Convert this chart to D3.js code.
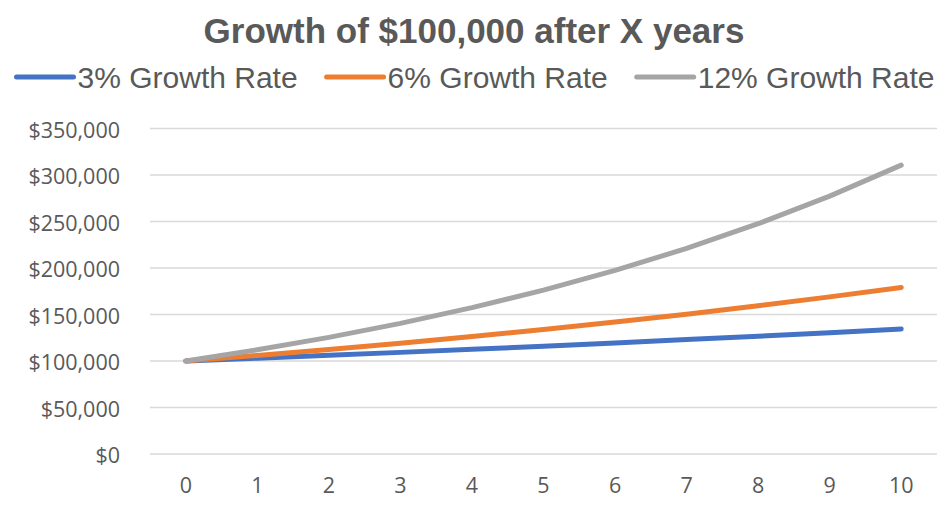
<!DOCTYPE html>
<html>
<head>
<meta charset="utf-8">
<script src="https://cdn.jsdelivr.net/npm/d3@7"></script>
<style>
  body { margin: 0; background: #fff; }
  svg { display: block; font-family: "Liberation Sans", Arial, sans-serif; }
  .axis text { font-family: "Open Sans", sans-serif; font-size: 21.5px; fill: #595959; }
</style>
</head>
<body>
<svg width="948" height="508"></svg>
<script>
// chart data
let years = [0, 1, 2, 3, 4, 5, 6, 7, 8, 9, 10];
let rate3 = [100000, 103000, 106090, 109273, 112551, 115927, 119405, 122987, 126677, 130477, 134392];
let rate6 = [100000, 106000, 112360, 119102, 126248, 133823, 141852, 150363, 159385, 168948, 179085];
let rate12 = [100000, 112000, 125440, 140493, 157352, 176234, 197382, 221068, 247596, 277308, 310585];
let seriesNames = ["3% Growth Rate", "6% Growth Rate", "12% Growth Rate"];
let yTicks = [0, 50000, 100000, 150000, 200000, 250000, 300000, 350000];

let colors = ["#4472c4", "#ed7d31", "#a5a5a5"];
let series = [rate3, rate6, rate12];

let svg = d3.select("svg");
let textColor = "#595959";

// plot area
let plotLeft = 150, plotRight = 937, plotTop = 128.5, plotBottom = 454;

let xScale = d3.scaleBand()
  .domain(years)
  .range([plotLeft, plotRight]);

let yScale = d3.scaleLinear()
  .domain([0, 350000])
  .range([plotBottom, plotTop]);

// gridlines
svg.append("g")
  .selectAll("line")
  .data(yTicks)
  .enter()
  .append("line")
    .attr("x1", plotLeft)
    .attr("x2", plotRight)
    .attr("y1", d => yScale(d))
    .attr("y2", d => yScale(d))
    .style("stroke", "#d9d9d9")
    .style("stroke-width", 1.5);

// y axis labels
let fmt = d3.format("$,");
let yAxis = svg.append("g")
  .attr("class", "axis")
  .attr("transform", `translate(${plotLeft - 30},0)`)
  .call(d3.axisLeft(yScale).tickValues(yTicks).tickFormat(fmt).tickSize(0).tickPadding(0));
yAxis.select(".domain").remove();
yAxis.selectAll("text").attr("dy", "0.4em");
yAxis.attr("font-family", null).attr("font-size", null);

// x axis labels
let xAxis = svg.append("g")
  .attr("class", "axis")
  .attr("transform", `translate(0,${plotBottom + 24})`)
  .call(d3.axisBottom(xScale).tickSize(0).tickPadding(0));
xAxis.select(".domain").remove();
xAxis.attr("font-family", null).attr("font-size", null);

// lines
let line = d3.line()
  .x((d, i) => xScale(years[i]) + xScale.bandwidth() / 2)
  .y(d => yScale(d));

svg.append("g")
  .selectAll("path")
  .data(series)
  .enter()
  .append("path")
    .attr("d", line)
    .style("fill", "none")
    .style("stroke", (d, i) => colors[i])
    .style("stroke-width", 5)
    .style("stroke-linecap", "round")
    .style("stroke-linejoin", "round");

// title
svg.append("text")
  .attr("x", 474)
  .attr("y", 43)
  .attr("text-anchor", "middle")
  .style("font-size", "35px")
  .style("font-weight", "bold")
  .style("fill", textColor)
  .text("Growth of $100,000 after X years");

// legend
let legend = svg.append("g");
let items = legend.selectAll("g")
  .data(seriesNames)
  .enter()
  .append("g");

items.append("line")
  .attr("x1", 0).attr("x2", 57)
  .attr("y1", 0).attr("y2", 0)
  .style("stroke", (d, i) => colors[i])
  .style("stroke-width", 5)
  .style("stroke-linecap", "round");

items.append("text")
  .attr("x", 61)
  .attr("y", 10.5)
  .style("font-size", "30px")
  .style("fill", textColor)
  .text(d => d);

let xPos = 0;
items.each(function() {
  let w = 61 + this.querySelector("text").getComputedTextLength();
  d3.select(this).attr("transform", `translate(${xPos},0)`);
  xPos += w + 29;
});
let total = xPos - 29;
legend.attr("transform", `translate(${475.5 - total / 2},77)`);
</script>
</body>
</html>
